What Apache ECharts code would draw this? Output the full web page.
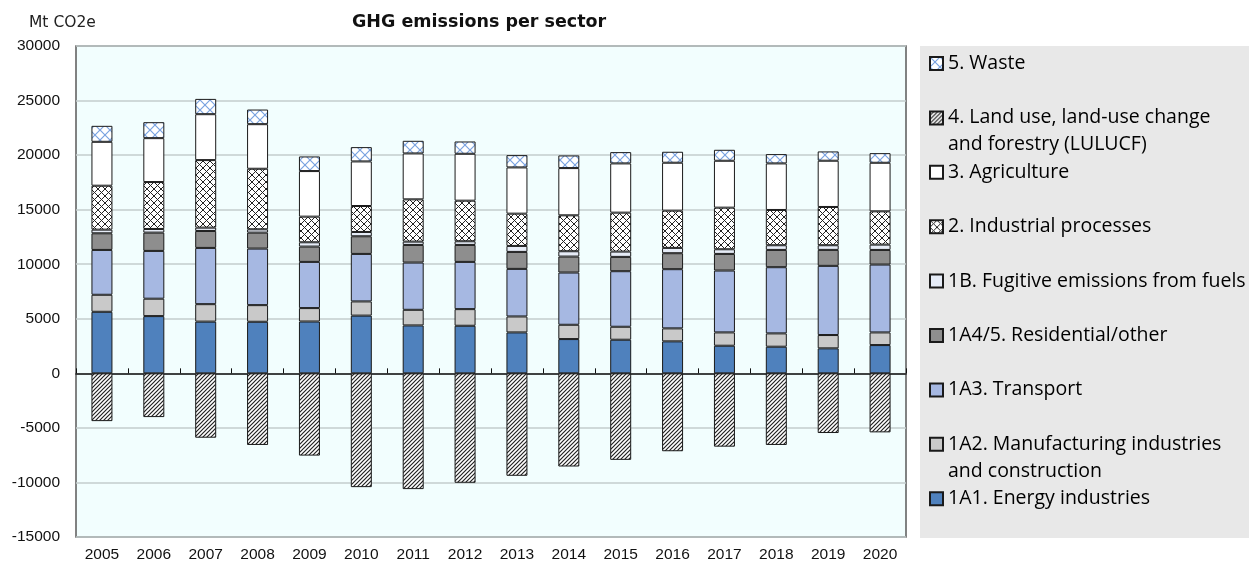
<!DOCTYPE html>
<html>
<head>
<meta charset="utf-8">
<script src="https://cdn.jsdelivr.net/npm/echarts@6/dist/echarts.min.js"></script>
<style>
  html, body { margin: 0; padding: 0; background: #fff; }
  #chart { width: 1259px; height: 563px; }
</style>
</head>
<body>
<div id="chart"></div>
<script>
const years = ['2005','2006','2007','2008','2009','2010','2011','2012','2013','2014','2015','2016','2017','2018','2019','2020'];

// Mt CO2e per sector
const energy        = [5640, 5245, 4740, 4726, 4750, 5290, 4390, 4360, 3750, 3140, 3080, 2930, 2530, 2440, 2290, 2590];
const manufacturing = [1560, 1595, 1600, 1524, 1230, 1300, 1433, 1524, 1463, 1311, 1189, 1189, 1220, 1220, 1219, 1159];
const transport     = [4110, 4380, 5154, 5183, 4233, 4355, 4329, 4329, 4360, 4787, 5092, 5427, 5671, 6067, 6342, 6220];
const residential   = [1525, 1676, 1555, 1463, 1403, 1616, 1616, 1555, 1555, 1463, 1311, 1463, 1524, 1585, 1463, 1341];
const fugitive      = [335, 336, 305, 305, 396, 396, 305, 336, 549, 488, 488, 488, 427, 427, 427, 488];
const industrial    = [4025, 4298, 6189, 5549, 2348, 2378, 3872, 3719, 2957, 3293, 3567, 3415, 3811, 3232, 3506, 3049];
const agriculture   = [4025, 4025, 4207, 4085, 4177, 4086, 4207, 4299, 4238, 4329, 4512, 4390, 4299, 4268, 4238, 4451];
const lulucf        = [-4380, -4010, -5900, -6565, -7540, -10430, -10610, -10030, -9390, -8540, -7930, -7140, -6720, -6565, -5470, -5410];
const waste         = [1463, 1463, 1402, 1342, 1341, 1311, 1159, 1128, 1128, 1159, 1036, 1006, 1006, 853, 853, 884];

const yTicks = [-15000, 30000, 5000]; // min, max, step

// hatch patterns
function pattern(size, stroke, width, draw) {
  const c = document.createElement('canvas');
  c.width = size; c.height = size;
  const ctx = c.getContext('2d');
  ctx.fillStyle = '#fff';
  ctx.fillRect(0, 0, size, size);
  ctx.strokeStyle = stroke;
  ctx.lineWidth = width;
  draw(ctx, size);
  return { image: c, repeat: 'repeat' };
}
function slash(ctx, s) {
  ctx.beginPath();
  ctx.moveTo(-1, s + 1); ctx.lineTo(s + 1, -1);
  ctx.moveTo(-1, 1); ctx.lineTo(1, -1);
  ctx.moveTo(s - 1, s + 1); ctx.lineTo(s + 1, s - 1);
  ctx.stroke();
}
function cross(ctx, s) {
  slash(ctx, s);
  ctx.beginPath();
  ctx.moveTo(-1, -1); ctx.lineTo(s + 1, s + 1);
  ctx.moveTo(s - 1, -1); ctx.lineTo(s + 1, 1);
  ctx.moveTo(-1, s - 1); ctx.lineTo(1, s + 1);
  ctx.stroke();
}
const hatchLulucf = pattern(4, '#222', 1.2, slash);
const hatchIndustry = pattern(7, '#222', 1, cross);
const hatchWaste = pattern(10, '#7aa3e0', 1.2, cross);

const sectors = [
  { name: '1A1. Energy industries', data: energy, color: '#4f81bd' },
  { name: '1A2. Manufacturing industries and construction', data: manufacturing, color: '#c9c9c9' },
  { name: '1A3. Transport', data: transport, color: '#a6b8e2' },
  { name: '1A4/5. Residential/other', data: residential, color: '#8e8e8e' },
  { name: '1B. Fugitive emissions from fuels', data: fugitive, color: '#e6ecf7' },
  { name: '2. Industrial processes', data: industrial, color: hatchIndustry },
  { name: '3. Agriculture', data: agriculture, color: '#ffffff' },
  { name: '4. Land use, land-use change and forestry (LULUCF)', data: lulucf, color: hatchLulucf },
  { name: '5. Waste', data: waste, color: hatchWaste }
];

const twoLine = {
  '4. Land use, land-use change and forestry (LULUCF)': ['4. Land use, land-use change', 'and forestry (LULUCF)'],
  '1A2. Manufacturing industries and construction': ['1A2. Manufacturing industries', 'and construction']
};

// legend, top to bottom
const legendOrder = sectors.slice().reverse();
const legends = legendOrder.map(function (s, i) {
  const yc = 67 + i * 54.4;
  const multi = !!twoLine[s.name];
  return {
    data: [s.name],
    orient: 'vertical',
    left: 929,
    top: multi ? yc - 40.5 : yc - 13.5,
    padding: 0,
    itemWidth: 13,
    itemHeight: 13,
    itemGap: 0,
    icon: 'rect',
    selectedMode: false,
    formatter: function (name) {
      if (twoLine[name]) {
        return '{e| }\n{t|' + twoLine[name][0] + '}\n{t|' + twoLine[name][1] + '}';
      }
      return '{t|' + name + '}';
    },
    textStyle: {
      rich: {
        t: { fontFamily: 'Open Sans', fontSize: 19.5, lineHeight: 27, color: '#000' },
        e: { fontFamily: 'Open Sans', fontSize: 19.5, lineHeight: 27 }
      }
    }
  };
});

const chart = echarts.init(document.getElementById('chart'));
chart.setOption({
  animation: false,
  backgroundColor: '#fff',
  title: [
    {
      text: 'GHG emissions per sector',
      left: 347,
      top: 8,
      textStyle: { fontFamily: 'DejaVu Sans', fontSize: 17.5, fontWeight: 'bold', color: '#111' }
    },
    {
      text: 'Mt CO2e',
      left: 24,
      top: 10,
      textStyle: { fontFamily: 'DejaVu Sans', fontSize: 15.5, fontWeight: 'normal', color: '#222' }
    }
  ],
  graphic: [{
    type: 'rect',
    z: -10,
    shape: { x: 920, y: 46, width: 329, height: 492 },
    style: { fill: '#e8e8e8' }
  }],
  legend: legends,
  grid: {
    left: 76,
    right: 353,
    top: 46,
    bottom: 25,
    show: true,
    backgroundColor: '#f2fefe',
    borderColor: '#5a5a5a',
    borderWidth: 1.5
  },
  xAxis: [
    {
      type: 'category',
      data: years,
      position: 'bottom',
      axisLine: { show: false, onZero: false },
      axisTick: { show: false },
      axisLabel: { fontFamily: 'Liberation Sans', fontSize: 15.5, color: '#111', margin: 10 }
    },
    {
      type: 'category',
      data: years,
      position: 'bottom',
      axisLine: { show: true, onZero: true, lineStyle: { color: '#111', width: 1.5 } },
      axisTick: { show: true, inside: true, length: 5, lineStyle: { color: '#111' } },
      axisLabel: { show: false }
    }
  ],
  yAxis: {
    type: 'value',
    min: yTicks[0],
    max: yTicks[1],
    interval: yTicks[2],
    axisLine: { show: false },
    axisTick: { show: false },
    axisLabel: {
      fontFamily: 'Liberation Sans', fontSize: 15.5, color: '#111', margin: 16,
      formatter: function (v) { return String(v); }
    },
    splitLine: { lineStyle: { color: '#c3cccc', width: 1.5 } }
  },
  series: sectors.map(function (s) {
    return {
      name: s.name,
      type: 'bar',
      stack: 'total',
      xAxisIndex: 0,
      barWidth: 21,
      data: s.data,
      itemStyle: { color: s.color, borderColor: '#1a1a1a', borderWidth: 1 }
    };
  })
});
</script>
</body>
</html>
